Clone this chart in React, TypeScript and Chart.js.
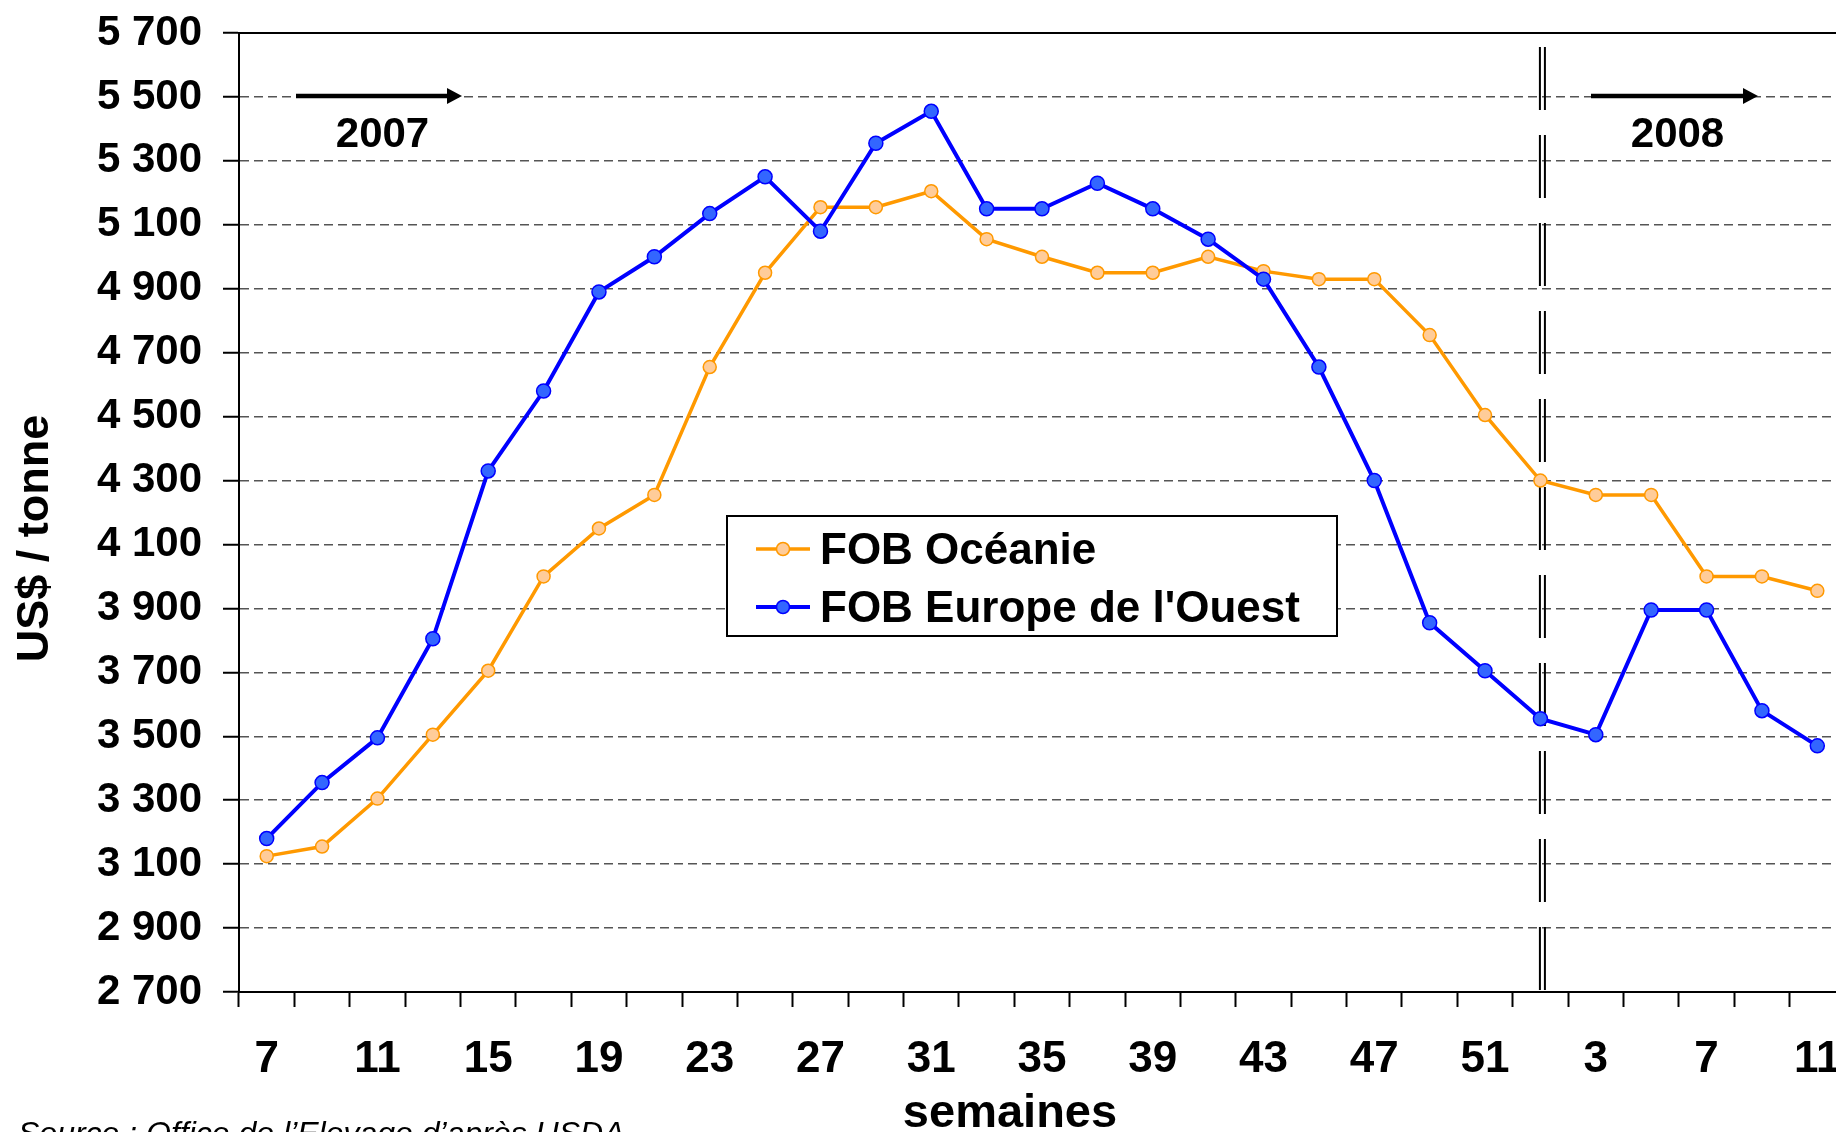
import React, { useEffect, useRef } from 'react';
import { Chart, registerables } from 'chart.js';

Chart.register(...registerables);

// ---- data ----
const weeks = [
  '7', '9', '11', '13', '15', '17', '19', '21', '23', '25', '27', '29', '31', '33', '35',
  '37', '39', '41', '43', '45', '47', '49', '51', '1', '3', '5', '7', '9', '11',
];
const oceanie = [
  3125, 3155, 3305, 3505, 3705, 4000, 4150, 4255, 4655, 4950, 5155, 5155, 5205, 5055, 5000,
  4950, 4950, 5000, 4955, 4930, 4930, 4755, 4505, 4300, 4255, 4255, 4000, 4000, 3955,
];
const europe = [
  3180, 3355, 3495, 3805, 4330, 4580, 4890, 5000, 5135, 5250, 5080, 5355, 5455, 5150, 5150,
  5230, 5150, 5055, 4930, 4655, 4300, 3855, 3705, 3555, 3505, 3895, 3895, 3580, 3470,
];
const seriesNames = ['FOB Océanie', "FOB Europe de l'Ouest"];
const yMin = 2700;
const yMax = 5700;
const yStep = 200;
const yearLabels = ['2007', '2008'];
const yearBreakIndex = 23;
const xTitle = 'semaines';
const yTitle = 'US$ / tonne';
const sourceText = 'Source : Office de l’Elevage d’après USDA';

const FONT = "'Liberation Sans', Arial, Helvetica, sans-serif";
const ORANGE = '#FF9900';
const ORANGE_FILL = '#FFCC99';
const BLUE = '#0000FF';
const BLUE_FILL = '#3366FF';

const fmt = (v: number) => String(v).replace(/\B(?=(\d{3})+(?!\d))/g, ' ');

function drawArrow(ctx: CanvasRenderingContext2D, x1: number, x2: number, y: number) {
  ctx.save();
  ctx.strokeStyle = '#000';
  ctx.fillStyle = '#000';
  ctx.lineWidth = 4.5;
  ctx.beginPath();
  ctx.moveTo(x1, y);
  ctx.lineTo(x2 - 12, y);
  ctx.stroke();
  ctx.beginPath();
  ctx.moveTo(x2 - 15, y - 8);
  ctx.lineTo(x2, y);
  ctx.lineTo(x2 - 15, y + 8);
  ctx.closePath();
  ctx.fill();
  ctx.restore();
}

function legendItem(ctx: CanvasRenderingContext2D, y: number, line: string, fill: string, lw: number, text: string) {
  ctx.save();
  ctx.strokeStyle = line;
  ctx.lineWidth = lw;
  ctx.beginPath();
  ctx.moveTo(756, y);
  ctx.lineTo(810, y);
  ctx.stroke();
  ctx.beginPath();
  ctx.arc(783, y, 6.5, 0, Math.PI * 2);
  ctx.fillStyle = fill;
  ctx.fill();
  ctx.lineWidth = 1.5;
  ctx.stroke();
  ctx.fillStyle = '#000';
  ctx.font = `bold 44px ${FONT}`;
  ctx.textAlign = 'left';
  ctx.textBaseline = 'alphabetic';
  ctx.fillText(text, 820, y + 15);
  ctx.restore();
}

const annotations = {
  id: 'annotations',
  beforeDatasetsDraw(chart: any) {
    const { ctx, scales, chartArea } = chart;
    const px = scales.x.getPixelForValue(yearBreakIndex);
    ctx.save();
    ctx.strokeStyle = '#000';
    ctx.lineWidth = 2;
    ctx.setLineDash([63, 25]);
    for (const dx of [-0.5, 4.5]) {
      ctx.beginPath();
      ctx.moveTo(px + dx, 47);
      ctx.lineTo(px + dx, chartArea.bottom);
      ctx.stroke();
    }
    ctx.restore();
  },
  afterDraw(chart: any) {
    const { ctx, chartArea, scales } = chart;
    // top frame line
    ctx.save();
    ctx.strokeStyle = '#000';
    ctx.lineWidth = 2;
    ctx.beginPath();
    ctx.moveTo(chartArea.left, chartArea.top);
    ctx.lineTo(chartArea.right, chartArea.top);
    ctx.stroke();
    ctx.restore();

    // year arrows
    const ay = scales.y.getPixelForValue(5500) - 1;
    drawArrow(ctx, 296, 462, ay);
    drawArrow(ctx, 1591, 1758, ay);
    ctx.save();
    ctx.fillStyle = '#000';
    ctx.font = `bold 42px ${FONT}`;
    ctx.textAlign = 'center';
    ctx.textBaseline = 'alphabetic';
    ctx.fillText(yearLabels[0], 382.5, 147);
    ctx.fillText(yearLabels[1], 1677.5, 147);
    ctx.restore();

    // legend
    ctx.save();
    ctx.fillStyle = '#fff';
    ctx.fillRect(727, 516, 610, 120);
    ctx.strokeStyle = '#000';
    ctx.lineWidth = 2;
    ctx.strokeRect(727, 516, 610, 120);
    ctx.restore();
    legendItem(ctx, 549, ORANGE, ORANGE_FILL, 3.5, seriesNames[0]);
    legendItem(ctx, 607, BLUE, BLUE_FILL, 4, seriesNames[1]);

    // axis titles
    ctx.save();
    ctx.fillStyle = '#000';
    ctx.font = `bold 47px ${FONT}`;
    ctx.textAlign = 'center';
    ctx.textBaseline = 'alphabetic';
    ctx.fillText(xTitle, 1010, 1127);
    ctx.restore();

    ctx.save();
    ctx.fillStyle = '#000';
    ctx.font = `bold 45px ${FONT}`;
    ctx.translate(36, 538.5);
    ctx.rotate(-Math.PI / 2);
    ctx.textAlign = 'center';
    ctx.textBaseline = 'middle';
    ctx.fillText(yTitle, 0, 0);
    ctx.restore();

    // source
    ctx.save();
    ctx.fillStyle = '#000';
    ctx.font = `italic 32px ${FONT}`;
    ctx.textAlign = 'left';
    ctx.textBaseline = 'alphabetic';
    ctx.fillText(sourceText, 18, 1144);
    ctx.restore();
  },
};

export default function App() {
  const ref = useRef<HTMLCanvasElement>(null);

  useEffect(() => {
    if (!ref.current) return;
    const chart = new Chart(ref.current, {
      type: 'line',
      data: {
        labels: weeks,
        datasets: [
          {
            label: seriesNames[0],
            data: oceanie,
            borderColor: ORANGE,
            backgroundColor: ORANGE_FILL,
            borderWidth: 3.5,
            pointRadius: 6.5,
            pointBorderWidth: 1.5,
            pointBackgroundColor: ORANGE_FILL,
            pointBorderColor: ORANGE,
            tension: 0,
            order: 1,
          },
          {
            label: seriesNames[1],
            data: europe,
            borderColor: BLUE,
            backgroundColor: BLUE_FILL,
            borderWidth: 4,
            pointRadius: 7,
            pointBorderWidth: 1.5,
            pointBackgroundColor: BLUE_FILL,
            pointBorderColor: BLUE,
            tension: 0,
            order: 0,
          },
        ],
      },
      options: {
        responsive: false,
        animation: false,
        devicePixelRatio: 1,
        layout: { autoPadding: false, padding: { top: 33, left: 0, right: 0, bottom: 0 } },
        plugins: {
          legend: { display: false },
          tooltip: { enabled: false },
          title: { display: false },
        },
        scales: {
          x: {
            offset: true,
            grid: {
              display: true,
              drawOnChartArea: false,
              drawTicks: true,
              offset: true,
              tickLength: 15,
              tickColor: '#000',
              tickWidth: 2,
              color: '#000',
            },
            border: { display: true, color: '#000', width: 2 },
            ticks: {
              autoSkip: false,
              maxRotation: 0,
              minRotation: 0,
              padding: 26,
              color: '#000',
              font: { family: FONT, size: 44, weight: 'bold' },
              callback: (_v: any, i: number) => (i % 2 === 0 ? weeks[i] : ''),
            },
            afterFit: (s: any) => {
              s.height = 140;
              s.paddingLeft = 0;
              s.paddingRight = 0;
            },
          },
          y: {
            min: yMin,
            max: yMax,
            ticks: {
              stepSize: yStep,
              padding: 21,
              color: '#000',
              font: { family: FONT, size: 42, weight: 'bold' },
              callback: (v: any) => fmt(Number(v)),
            },
            grid: {
              color: '#555',
              lineWidth: 1.5,
              drawTicks: true,
              tickLength: 16,
              tickColor: '#000',
              tickWidth: 2,
            },
            border: { display: true, color: '#000', width: 2, dash: [9, 5] },
            afterFit: (s: any) => {
              s.width = 239;
              s.paddingTop = 0;
              s.paddingBottom = 0;
            },
          },
        },
      } as any,
      plugins: [annotations],
    });
    return () => chart.destroy();
  }, []);

  return (
    <div
      style={{
        position: 'fixed',
        left: 0,
        top: 0,
        width: 1836,
        height: 1132,
        overflow: 'hidden',
        background: '#fff',
      }}
    >
      <canvas ref={ref} width={1845} height={1132} style={{ display: 'block', width: 1845, height: 1132 }} />
    </div>
  );
}
